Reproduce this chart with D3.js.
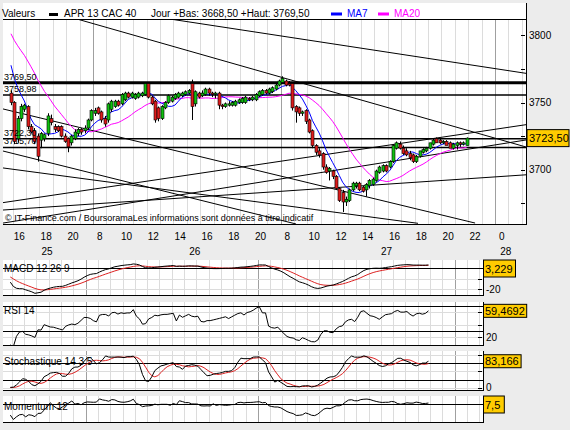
<!DOCTYPE html>
<html>
<head>
<meta charset="utf-8">
<script src="https://cdn.jsdelivr.net/npm/d3@7"></script>
<style>
  body { margin: 0; background: #ececec; }
  text { font-family: "Liberation Sans", Arial, sans-serif; font-size: 10px; }
</style>
</head>
<body>
<svg id="chart" width="570" height="430"></svg>
<script>
// ---- data: 15 min candles, APR 13 CAC 40 ----
var opens = [3757,3750,3723,3738,3745,3747,3732,3729,3725,3722,3723,3727,3738,3732,3732,3732,3725,3723,3720,3723,3727,3730,3729,3731,3737,
  3742,3746,3743,3738,3737,3745,3747,3751,3749,3752,3757,3754,3753,3754,3755,3756,3764,3754,3751,3746,3738,3746,3750,3751,3753,3754,3755,3756,3757,3764,3749,3757,3755,3756,3760,3757,3756,3757,3748,3747,3748,3748,3748,3750,3750,3750,3753,3752,3752,3755,3756,3759,3757,3758,3760,3763,
  3765,3766,3764,3764,3747,3746,3742,3744,3737,3729,3718,3714,3712,3702,3699,3699,3695,3686,3683,3676,3677,3685,3688,3690,3687,3685,3688,3689,3692,3698,3699,3703,3702,3706,3716,3719,3716,3714,3712,3711,3706,3710,3713,3714,3716,3719,3723,3722,3720,3721,3720,3716,3718,3720,3719,3718];
var highs = [3759,3751,3740,3749,3749,3748,3734,3731,3727,3728,3727,3742,3741,3734,3733,3733,3727,3724,3726,3730,3731,3731,3733,3738,3745,
  3746,3747,3744,3740,3750,3752,3752,3752,3757,3758,3758,3758,3757,3758,3758,3765,3765,3755,3752,3747,3748,3751,3756,3755,3757,3758,3758,3759,3760,3767,3759,3758,3759,3761,3761,3758,3758,3758,3749,3750,3751,3751,3752,3753,3754,3755,3754,3755,3757,3759,3760,3760,3761,3762,3764,3767,
  3769.5,3767,3766,3765,3748,3747,3744,3745,3738,3730,3719,3716,3713,3704,3702,3700,3696,3687,3685,3680,3686,3691,3691,3691,3688,3690,3693,3694,3700,3703,3704,3704,3707,3719,3721,3721,3718,3716,3714,3712,3711,3714,3716,3717,3720,3723,3724,3723,3722,3722,3721,3720,3721,3721,3721,3724];
var lows = [3748,3719,3720,3736,3743,3730,3727,3719,3706,3716,3721,3725,3733,3728,3728,3724,3720,3713,3718,3722,3725,3726,3727,3730,3736,
  3740,3741,3735,3732,3735,3743,3746,3747,3748,3751,3753,3753,3752,3753,3754,3755,3753,3748,3735,3736,3737,3745,3749,3750,3752,3753,3754,3755,3756,3737,3747,3753,3754,3755,3755,3754,3753,3745,3745,3746,3747,3747,3747,3749,3749,3749,3751,3751,3751,3754,3755,3756,3756,3757,3759,3762,
  3764,3762,3762,3744,3735,3740,3740,3734,3727,3716,3711,3709,3700,3697,3692,3693,3685,3676,3668.5,3673,3676,3684,3686,3684,3683,3680,3686,3688,3691,3697,3698,3698,3701,3705,3715,3715,3711,3710,3707,3705,3705,3709,3712,3713,3715,3718,3720,3719,3719,3719,3717,3715,3715,3717,3718,3718,3717];
var closes = [3750,3721,3738,3747,3748,3732,3728,3721,3710,3727,3726,3740,3735,3730,3729,3725,3721,3717,3725,3728,3730,3728,3731,3737,3744,
  3744,3742,3737,3734,3749,3751,3751,3748,3756,3757,3754,3757,3756,3757,3757,3764,3754,3749,3737,3738,3747,3750,3755,3754,3756,3757,3757,3758,3759,3747,3758,3754,3757,3760,3757,3756,3757,3748,3747,3749,3749,3750,3751,3752,3753,3754,3752,3754,3756,3758,3759,3757,3760,3761,3763,3766,
  3768,3763,3763,3746,3743,3742,3743,3736,3728,3718,3713,3711,3702,3698,3701,3695,3686,3677,3676,3678,3685,3690,3690,3685,3684,3689,3692,3693,3699,3702,3703,3699,3706,3718,3720,3716,3712,3711,3709,3706,3710,3714,3715,3716,3720,3722,3720,3720,3721,3718,3716,3719,3720,3719,3720,3723.5];
// closes before the first visible candle (only used to seed the averages)
var priorCloses = [3822,3824,3821,3823,3825,3822,3820,3823,3821,3819,3822,3820,3818,3820,3817,3816,
  3815,3813,3814,3811,3812,3809,3808,3806,3790,3786,3783,3781,3779,3775];

var barStart = 7.75, barHours = 0.25;   // first bar: 25th 15:45, trading hours axis

var priceTicks = [3675, 3700, 3725, 3750, 3775, 3800];
var priceLabels = [3700, 3750, 3800];
var hourTicks = [8,10,12,14,16,18,20,22,24,26,28,30,32,34,36,38,40,42,44];
var hourText = ["16","18","20","8","10","12","14","16","18","20","8","10","12","14","16","18","20","22","0"];
var dayHours = [10.57, 21.6, 35.9, 44.8];
var dayText = ["25", "26", "27", "28"];
var dayBreaks = [14, 28, 44];

var levelPrices = [3764.7, 3755.6, 3723.0, 3716.6];
var levelText = ["3769,50", "3758,98", "3722,30", "3715,70"];

// user trend lines: [hour, price] -> [hour, price]
var trendFrom = [[19.75, 3812.1], [12.81, 3812.1], [7.28, 3745.2], [7.28, 3713.9], [7.28, 3701.3],
                 [7.28, 3675.5], [7.28, 3660.3], [7.28, 3670.0]];
var trendTo   = [[46.31, 3771.7], [46.31, 3716.9], [42.51, 3660.3], [29.15, 3659.6], [38.25, 3660.1],
                 [46.31, 3733.5], [46.31, 3722.1], [46.31, 3696.2]];

var lastPrice = "3723,50";
var readouts = ["3,229", "59,4692", "83,166", "7,5"];

// ---- indicators ----
var nPrior = priorCloses.length;
var allC = priorCloses.concat(closes);
var allH = priorCloses.concat(highs);
var allL = priorCloses.concat(lows);

function sma(arr, n) {
    return arr.map(function (v, i) {
        return i < n - 1 ? null : d3.mean(arr.slice(i - n + 1, i + 1));
    });
}
function ema(arr, n) {
    var k = 2 / (n + 1), out = [];
    arr.forEach(function (v, i) {
        out.push(i == 0 ? v : out[i - 1] + (v - out[i - 1]) * k);
    });
    return out;
}
function rsi(arr, n) {
    var out = [null], ag = 0, al = 0;
    for (var i = 1; i < arr.length; i++) {
        var d = arr[i] - arr[i - 1];
        var g = Math.max(d, 0), l = Math.max(-d, 0);
        if (i <= n) { ag += g / n; al += l / n; }
        else { ag = (ag * (n - 1) + g) / n; al = (al * (n - 1) + l) / n; }
        out.push(i < n ? null : (al == 0 ? 100 : 100 - 100 / (1 + ag / al)));
    }
    return out;
}

var ma7 = sma(allC, 7).slice(nPrior);
var ma20 = sma(allC, 20).slice(nPrior);
var e12 = ema(allC, 12), e26 = ema(allC, 26);
var macdAll = e12.map(function (v, i) { return v - e26[i]; });
var sigAll = ema(macdAll, 9);
var macd = macdAll.slice(nPrior), macdSig = sigAll.slice(nPrior);
var rsi14 = rsi(allC, 14).slice(nPrior);
var rawK = allC.map(function (c, i) {
    var lo = d3.min(allL.slice(Math.max(0, i - 13), i + 1));
    var hi = d3.max(allH.slice(Math.max(0, i - 13), i + 1));
    return hi == lo ? 50 : (c - lo) / (hi - lo) * 100;
});
var slowKAll = sma(rawK, 3);
var stochK = slowKAll.slice(nPrior);
var stochD = sma(slowKAll.map(function (v) { return v == null ? 50 : v; }), 5).slice(nPrior);
var mom = allC.map(function (c, i) { return i < 12 ? null : c - allC[i - 12]; }).slice(nPrior);

function barHour(i) { return barStart + i * barHours + barHours / 2; }

// ---- drawing ----
var svg = d3.select("#chart");
var gridLight = "#dcdcdc", gridDark = "#a0a0a0";

var xMain = d3.scaleLinear().domain([7.28, 46.31]).range([3, 526]);
var xInd = d3.scaleLinear().domain([7.28, 46.31]).range([3, 483]);
var yMain = d3.scaleLinear().domain([3675, 3800]).range([203.3, 35.3]);

svg.append("rect").attr("width", 570).attr("height", 430).attr("fill", "#ececec");
svg.append("rect").attr("x", 3).attr("y", 3).attr("width", 523).attr("height", 221).attr("fill", "#fff");

svg.append("clipPath").attr("id", "mainClip")
    .append("rect").attr("x", 3).attr("y", 19).attr("width", 523).attr("height", 205);

var plot = svg.append("g").attr("clip-path", "url(#mainClip)");

// vertical grid
plot.selectAll(".vgrid")
    .data(d3.range(8, 47))
    .join("line")
    .attr("class", "vgrid")
    .attr("x1", function (d) { return Math.round(xMain(d)) + 0.5; })
    .attr("x2", function (d) { return Math.round(xMain(d)) + 0.5; })
    .attr("y1", 19).attr("y2", 224)
    .style("stroke", function (d) { return dayBreaks.indexOf(d) >= 0 ? gridDark : gridLight; });

// horizontal levels
plot.selectAll(".level")
    .data(levelPrices)
    .join("line")
    .attr("x1", 3).attr("x2", 526)
    .attr("y1", function (d) { return yMain(d); })
    .attr("y2", function (d) { return yMain(d); })
    .style("stroke", "#000")
    .style("stroke-width", function (d, i) { return i == 0 ? 3 : 1.5; });

// trend lines
plot.selectAll(".trend")
    .data(trendFrom)
    .join("line")
    .attr("x1", function (d) { return xMain(d[0]); })
    .attr("y1", function (d) { return yMain(d[1]); })
    .attr("x2", function (d, i) { return xMain(trendTo[i][0]); })
    .attr("y2", function (d, i) { return yMain(trendTo[i][1]); })
    .style("stroke", "#000")
    .style("stroke-width", 1);

// moving averages
var maLine = function (arr) {
    return d3.line()
        .defined(function (d) { return d != null; })
        .x(function (d, i) { return xMain(barHour(i)); })
        .y(function (d) { return yMain(d); })(arr);
};
plot.append("path").attr("d", maLine(ma20)).style("fill", "none").style("stroke", "#ff00ff");
plot.append("path").attr("d", maLine(ma7)).style("fill", "none").style("stroke", "#0000ff");

// candles
var candles = plot.selectAll(".candle")
    .data(closes)
    .join("g")
    .attr("class", "candle");

candles.append("line")
    .attr("x1", function (d, i) { return Math.round(xMain(barHour(i))) + 0.5; })
    .attr("x2", function (d, i) { return Math.round(xMain(barHour(i))) + 0.5; })
    .attr("y1", function (d, i) { return yMain(highs[i]); })
    .attr("y2", function (d, i) { return yMain(lows[i]); })
    .style("stroke", "#000");

candles.append("rect")
    .attr("x", function (d, i) { return Math.round(xMain(barHour(i))) - 1; })
    .attr("width", 3)
    .attr("y", function (d, i) { return yMain(Math.max(opens[i], d)); })
    .attr("height", function (d, i) { return Math.max(1, Math.abs(yMain(opens[i]) - yMain(d))); })
    .style("fill", function (d, i) { return d >= opens[i] ? "#10c010" : "#dd1c1c"; })
    .style("stroke", "#000")
    .style("stroke-width", 0.6);

// level labels
svg.selectAll(".levelText")
    .data(levelPrices)
    .join("text")
    .attr("x", 4)
    .attr("y", function (d) { return yMain(d) - 3; })
    .style("font-size", "9px")
    .text(function (d, i) { return levelText[i]; });

svg.append("text").attr("x", 5).attr("y", 221).style("font-size", "9px")
    .text("\u00a9 IT-Finance.com / BoursoramaLes informations sont donn\u00e9es \u00e0 titre indicatif");

// legend
svg.append("line").attr("x1", 3).attr("x2", 526).attr("y1", 19.5).attr("y2", 19.5).style("stroke", "#000");
svg.append("text").attr("x", 2).attr("y", 17).text("Valeurs");
svg.append("rect").attr("x", 49).attr("y", 13).attr("width", 9).attr("height", 3).attr("fill", "#000");
svg.append("text").attr("x", 64).attr("y", 17).text("APR 13 CAC 40");
svg.append("text").attr("x", 151).attr("y", 17).text("Jour +Bas: 3668,50 +Haut: 3769,50");
svg.append("rect").attr("x", 331).attr("y", 12.5).attr("width", 11).attr("height", 3).attr("fill", "#0000ff");
svg.append("text").attr("x", 347).attr("y", 17).style("fill", "#0000ff").text("MA7");
svg.append("rect").attr("x", 378).attr("y", 12.5).attr("width", 11).attr("height", 3).attr("fill", "#ff00ff");
svg.append("text").attr("x", 394).attr("y", 17).style("fill", "#ff00ff").text("MA20");

// price axis
svg.append("line").attr("x1", 526.5).attr("x2", 526.5).attr("y1", 3).attr("y2", 224).style("stroke", "#000");
svg.append("line").attr("x1", 3).attr("x2", 527).attr("y1", 224.5).attr("y2", 224.5).style("stroke", "#000");
svg.selectAll(".ptick")
    .data(priceTicks)
    .join("line")
    .attr("x1", 521).attr("x2", 525)
    .attr("y1", function (d) { return Math.round(yMain(d)) + 0.5; })
    .attr("y2", function (d) { return Math.round(yMain(d)) + 0.5; })
    .style("stroke", "#000");
svg.selectAll(".plabel")
    .data(priceLabels)
    .join("text")
    .attr("x", 529)
    .attr("y", function (d) { return yMain(d) + 3.5; })
    .text(function (d) { return d; });

var lastY = yMain(closes[closes.length - 1]);
svg.append("rect").attr("x", 527).attr("y", lastY - 8.5).attr("width", 42).attr("height", 17)
    .attr("fill", "#ffcc00").style("stroke", "#000");
svg.append("text").attr("x", 529).attr("y", lastY + 4).style("font-size", "11px").text(lastPrice);

// time axis
svg.selectAll(".hlabel")
    .data(hourTicks)
    .join("text")
    .attr("x", function (d) { return xMain(d + 0.5); })
    .attr("y", 240)
    .attr("text-anchor", "middle")
    .text(function (d, i) { return hourText[i]; });
svg.selectAll(".dlabel")
    .data(dayHours)
    .join("text")
    .attr("x", function (d) { return xMain(d); })
    .attr("y", 255)
    .attr("text-anchor", "middle")
    .text(function (d, i) { return dayText[i]; });

// ---- indicator panels ----
var panels = [
    { name: "MACD 12 26 9", top: 260, bottom: 295, labelY: 272, y: d3.scaleLinear().domain([-20, 0]).range([289, 268.3]),
      series: [macd, macdSig], refs: [0], ticks: [-10, -20], tickText: ["-20"], tickTextVal: [-20], boxH: 17 },
    { name: "RSI 14", top: 302, bottom: 345, labelY: 314, y: d3.scaleLinear().domain([30, 70]).range([331, 305.7]),
      series: [rsi14], refs: [30, 70], ticks: [20, 40, 60], tickText: ["20"], tickTextVal: [20], boxH: 13 },
    { name: "Stochastique 14 3 5", top: 351, bottom: 390, labelY: 365, y: d3.scaleLinear().domain([0, 100]).range([387.7, 355]),
      series: [stochK, stochD], refs: [25, 75], ticks: [0, 50, 100], tickText: ["0"], tickTextVal: [0], boxH: 13 },
    { name: "Momentum 12", top: 396, bottom: 422, labelY: 410, y: d3.scaleLinear().domain([d3.min(mom), 0]).range([419.5, 404.3]),
      series: [mom], refs: [0], ticks: [], tickText: [], tickTextVal: [], boxH: 17 }
];
var seriesColors = ["#000", "#dd2222"];

panels.forEach(function (p, pi) {
    var g = svg.append("g");
    g.append("clipPath").attr("id", "clip" + pi)
        .append("rect").attr("x", 3).attr("y", p.top).attr("width", 480).attr("height", p.bottom - p.top);
    g.append("rect").attr("x", 3).attr("y", p.top).attr("width", 480).attr("height", p.bottom - p.top).attr("fill", "#fff");

    var inner = g.append("g").attr("clip-path", "url(#clip" + pi + ")");
    inner.selectAll(".vg")
        .data(d3.range(8, 47))
        .join("line")
        .attr("x1", function (d) { return Math.round(xInd(d)) + 0.5; })
        .attr("x2", function (d) { return Math.round(xInd(d)) + 0.5; })
        .attr("y1", p.top).attr("y2", p.bottom)
        .style("stroke", function (d) { return dayBreaks.indexOf(d) >= 0 ? gridDark : gridLight; });
    inner.selectAll(".hg")
        .data(p.ticks)
        .join("line")
        .attr("x1", 3).attr("x2", 483)
        .attr("y1", function (d) { return Math.round(p.y(d)) + 0.5; })
        .attr("y2", function (d) { return Math.round(p.y(d)) + 0.5; })
        .style("stroke", gridLight);
    inner.selectAll(".ref")
        .data(p.refs)
        .join("line")
        .attr("x1", 3).attr("x2", 483)
        .attr("y1", function (d) { return Math.round(p.y(d)) + 0.5; })
        .attr("y2", function (d) { return Math.round(p.y(d)) + 0.5; })
        .style("stroke", "#000");

    p.series.slice().reverse().forEach(function (s, si) {
        var idx = p.series.length - 1 - si;
        inner.append("path")
            .attr("d", d3.line()
                .defined(function (d) { return d != null; })
                .x(function (d, i) { return xInd(barHour(i)); })
                .y(function (d) { return p.y(d); })(s))
            .style("fill", "none")
            .style("stroke", seriesColors[idx]);
    });

    inner.append("text").attr("x", 4).attr("y", p.labelY).text(p.name);

    g.append("line").attr("x1", 3).attr("x2", 483.5).attr("y1", p.bottom + 0.5).attr("y2", p.bottom + 0.5).style("stroke", "#000");
    g.append("line").attr("x1", 483.5).attr("x2", 483.5).attr("y1", p.top).attr("y2", p.bottom + 1).style("stroke", "#000");

    g.selectAll(".tk")
        .data(p.ticks)
        .join("line")
        .attr("x1", 478).attr("x2", 482)
        .attr("y1", function (d) { return Math.round(p.y(d)) + 0.5; })
        .attr("y2", function (d) { return Math.round(p.y(d)) + 0.5; })
        .style("stroke", "#000");
    g.selectAll(".tt")
        .data(p.tickTextVal)
        .join("text")
        .attr("x", 486)
        .attr("y", function (d) { return p.y(d) + 3.5; })
        .text(function (d, i) { return p.tickText[i]; });

    var last = p.series[0][p.series[0].length - 1];
    var by = Math.max(p.top, p.y(last) - p.boxH / 2);
    g.append("rect").attr("x", 483.5).attr("y", by).attr("height", p.boxH)
        .attr("width", readouts[pi].length * 5.6 + 4)
        .attr("fill", "#ffcc00").style("stroke", "#000");
    g.append("text").attr("x", 485).attr("y", by + p.boxH / 2 + 4).style("font-size", "11px").text(readouts[pi]);
});
</script>
</body>
</html>
